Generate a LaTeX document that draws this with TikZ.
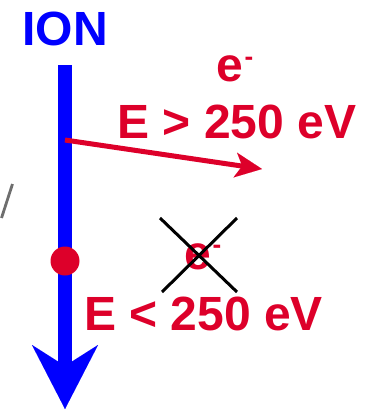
\documentclass[tikz,border=0pt]{standalone}
\usepackage{fontspec}
\setmainfont{Liberation Sans}
\usetikzlibrary{arrows.meta}
\definecolor{ionblue}{RGB}{0,0,255}
\definecolor{ered}{RGB}{221,0,42}
\definecolor{slashgray}{RGB}{110,110,110}
\tikzset{
  bigtext/.style={font=\fontsize{48}{48}\selectfont\bfseries, inner sep=0pt, outer sep=0pt, anchor=base west},
  elabel/.style={bigtext, text=ered},
}
\newcommand{\elec}{e\kern2pt\raisebox{16pt}{\fontsize{26}{26}\selectfont -}}
\begin{document}
\begin{tikzpicture}[x=1pt,y=-1pt]
\useasboundingbox (0,0) rectangle (367,410);
% ION
\node[bigtext, text=ionblue] (ion) at (22.5,45) {ION};
% trajectory
\coordinate (top) at (65,65);
\coordinate (bottom) at (65,409);
\draw[ionblue, line width=14pt, -{Stealth[length=64pt,width=66pt,inset=21pt,line width=0.01pt]}] (top) -- (bottom);
% escaping electron
\coordinate (estart) at (65,140);
\coordinate (eend) at (262,169);
\draw[ered, line width=5pt, -{Stealth[length=27pt,width=25pt,inset=7pt,line width=0.01pt]}] (estart) -- (eend);
\node[elabel] (e1) at (216,81) {\elec};
\node[elabel] (hi) at (117.5,138) {E > 250 eV};
% captured electron
\node[elabel] (e2) at (184,269) {\elec};
\coordinate (xa) at (160,218);
\coordinate (xb) at (237,292);
\coordinate (xc) at (237,218);
\coordinate (xd) at (162,292);
\draw[black, line width=3pt] (xa) -- (xb);
\draw[black, line width=3pt] (xc) -- (xd);
\node[elabel] (lo) at (84,330.5) {E < 250 eV};
% dot on trajectory
\node[circle, fill=ered, minimum size=29pt, inner sep=0pt] (dot) at (65,261) {};
% gray slash fragment
\coordinate (sa) at (1.5,218);
\coordinate (sb) at (12.5,184);
\draw[slashgray, line width=2.8pt] (sa) -- (sb);
\end{tikzpicture}
\end{document}
